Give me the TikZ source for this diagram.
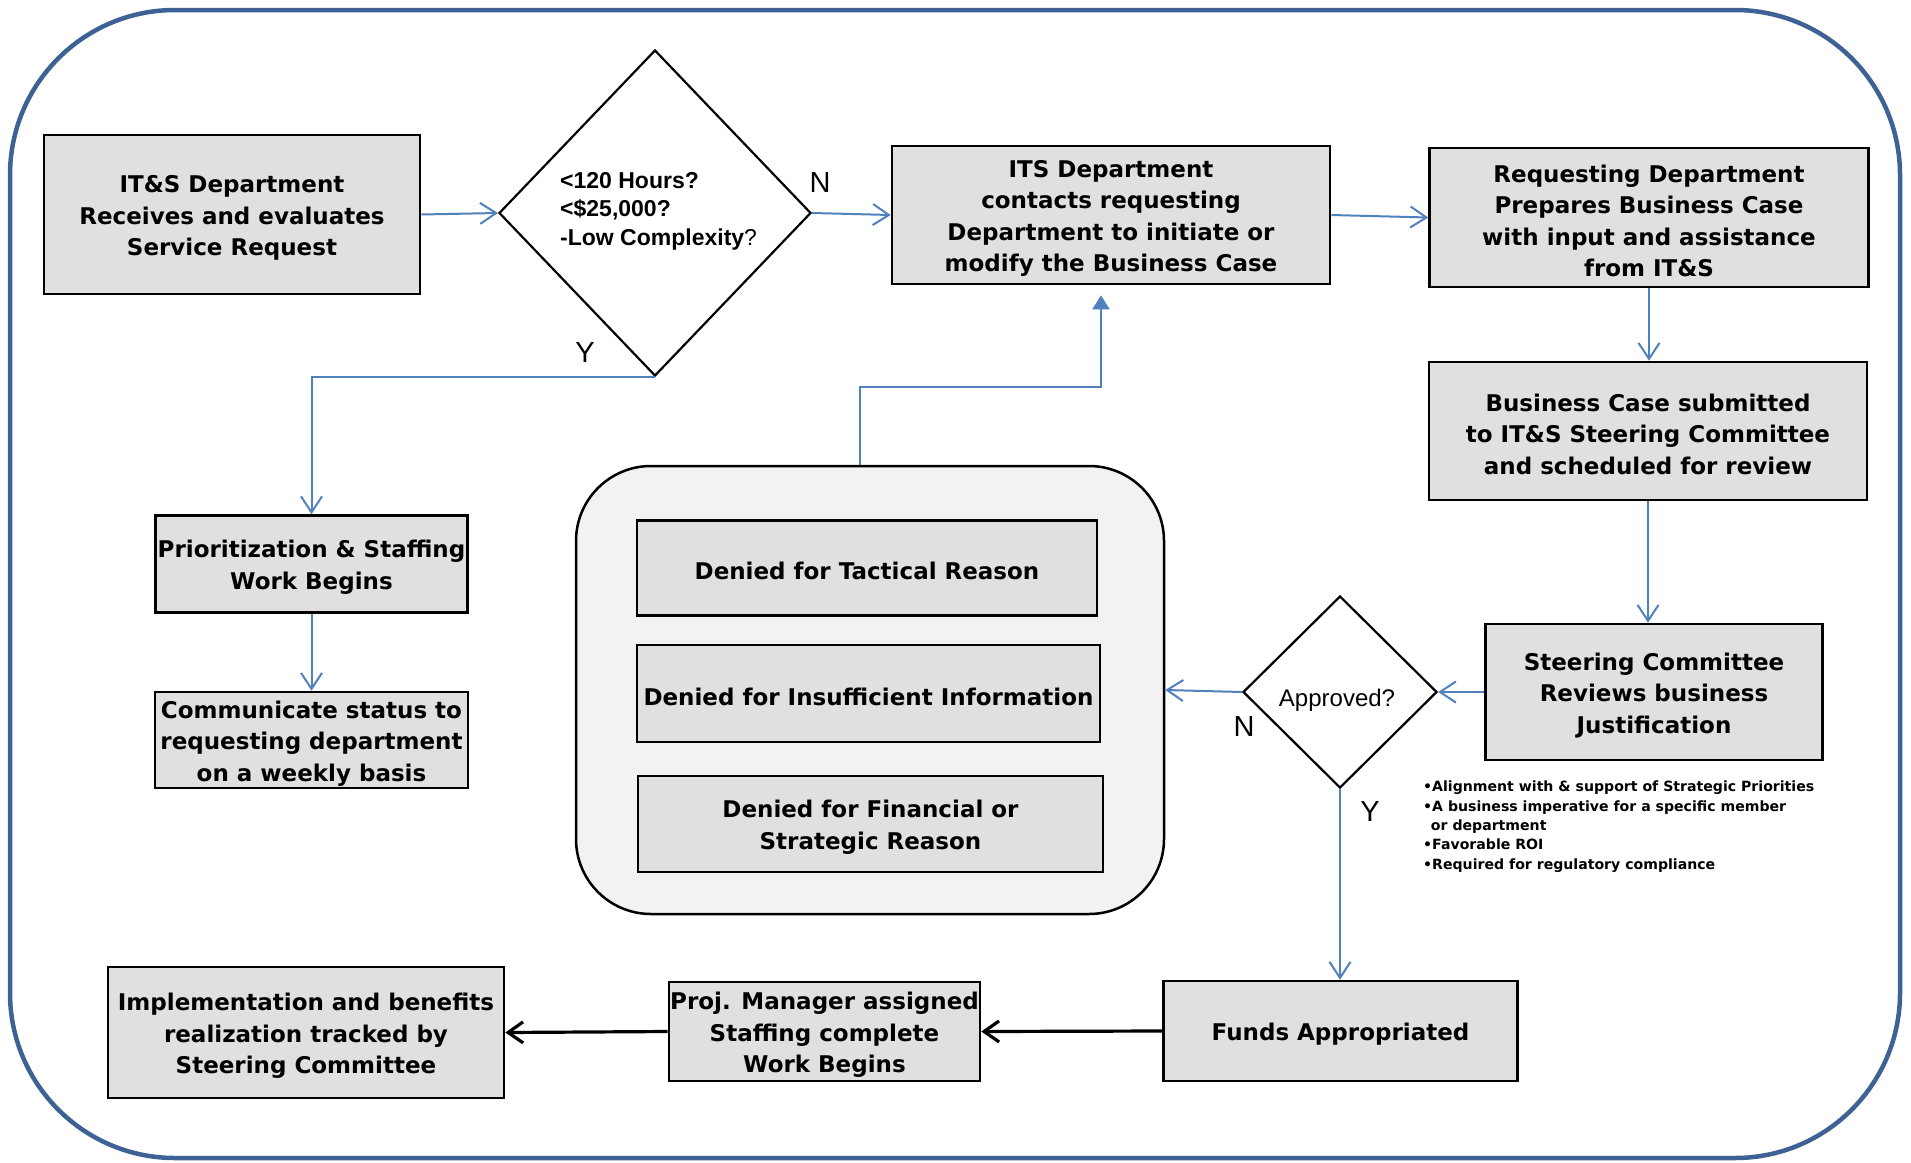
\documentclass[tikz,border=0pt]{standalone}
\usepackage{fontspec}
\setmainfont{DejaVu Sans}
\newfontfamily\arialf{Liberation Sans}
\usetikzlibrary{arrows.meta,shapes.geometric}

\definecolor{frameblue}{RGB}{62,98,148}
\definecolor{flowblue}{RGB}{79,129,189}
\definecolor{boxgray}{RGB}{224,224,224}
\definecolor{panelgray}{RGB}{242,242,242}

\newcommand{\bxfont}{\bfseries\fontsize{23}{31.5}\selectfont}
% taller first line so the text block sits a little lower in its box
\newcommand{\tp}{\rule{0pt}{24pt}}

\tikzset{
  box/.style={draw=black, line width=2.6pt, fill=boxgray, inner sep=0pt,
    align=center, font=\bxfont},
  decision/.style={diamond, draw=black, line width=2.2pt, fill=white,
    inner sep=0pt},
  panel/.style={draw=black, line width=2.5pt, fill=panelgray,
    rounded corners=75pt, inner sep=0pt},
  yn/.style={font=\arialf\fontsize{29}{29}\selectfont, inner sep=0pt},
  flow/.style={draw=flowblue, line width=2pt,
    -{Straight Barb[length=16pt,width=21pt]}},
  flowup/.style={draw=flowblue, line width=2.2pt,
    -{Triangle[length=14pt,width=17pt]}},
  blackflow/.style={draw=black, line width=3.2pt,
    -{Straight Barb[length=15pt,width=21pt]}},
}

\begin{document}
\begin{tikzpicture}[x=1pt,y=-1pt]
\useasboundingbox (0,0) rectangle (1911,1162);

% outer frame
\draw[frameblue, line width=4.5pt, rounded corners=165pt] (10,10) rectangle (1900,1158);

% intake and screening
\node[box, minimum width=376pt, minimum height=159pt] (intake) at (232,214.5)
  {\tp IT\&S Department\\Receives and evaluates\\Service Request};
\node[decision, minimum width=312pt, minimum height=326pt] (q1) at (655,213) {};
\node[anchor=west, align=left, inner sep=0pt,
  font=\arialf\bfseries\fontsize{23}{28.5}\selectfont] (q1txt) at (560,211)
  {<120 Hours?\\<\$25,000?\\-Low Complexity{\mdseries ?}};
\node[yn] (q1n) at (820,183) {N};
\node[yn] (q1y) at (585,353) {Y};

% business case track
\node[box, minimum width=438pt, minimum height=138pt] (its) at (1111,215)
  {\tp ITS Department\\contacts requesting\\Department to initiate or\\modify the Business Case};
\node[box, minimum width=439pt, minimum height=139pt] (req) at (1649,217.5)
  {\tp Requesting Department\\Prepares Business Case\\with input and assistance\\from IT\&S};
\node[box, minimum width=438pt, minimum height=138pt] (bcs) at (1648,431)
  {\tp Business Case submitted\\to IT\&S Steering Committee\\and scheduled for review};
\node[box, minimum width=337pt, minimum height=136pt] (stc) at (1654,692)
  {\tp Steering Committee\\Reviews business\\Justification};

% approval decision
\node[decision, minimum width=194pt, minimum height=192pt] (q2) at (1340,692) {};
\node[font=\arialf\fontsize{24}{24}\selectfont, inner sep=0pt] (q2txt) at (1337,700) {Approved?};
\node[yn] (q2n) at (1244,727) {N};
\node[yn] (q2y) at (1370,812) {Y};

% criteria list
\node[anchor=north west, align=left, inner sep=0pt,
  font=\bfseries\fontsize{14.1}{19.3}\selectfont] (crit) at (1423,781)
  {•Alignment with \& support of Strategic Priorities\\
   •A business imperative for a specific member\\
   \hspace*{0.55em}or department\\
   •Favorable ROI\\
   •Required for regulatory compliance};

% denial reasons
\node[panel, minimum width=588pt, minimum height=448pt] (deny) at (870,690) {};
\node[box, minimum width=460pt, minimum height=95pt] (tact) at (867,568)
  {\tp Denied for Tactical Reason};
\node[box, minimum width=463pt, minimum height=97pt] (info) at (868.5,693.5)
  {\tp Denied for Insufficient Information};
\node[box, minimum width=465pt, minimum height=96pt] (fin) at (870.5,824)
  {\tp Denied for Financial or\\Strategic Reason};

% small request track
\node[box, minimum width=312pt, minimum height=97pt] (prio) at (311.5,564)
  {\tp Prioritization \& Staffing\\Work Begins};
\node[box, minimum width=313pt, minimum height=96pt] (comm) at (311.5,740)
  {\tp Communicate status to\\requesting department\\on a weekly basis};

% execution track
\node[box, minimum width=354pt, minimum height=100pt] (funds) at (1340.5,1031)
  {\tp Funds Appropriated};
\node[box, minimum width=311pt, minimum height=99pt] (pm) at (824.5,1031.5)
  {\tp Proj. Manager assigned\\Staffing complete\\Work Begins};
\node[box, minimum width=396pt, minimum height=131pt] (impl) at (306,1032.5)
  {\tp Implementation and benefits\\realization tracked by\\Steering Committee};

% connectors
\draw[flow] (intake.east) -- (q1.west);
\draw[flow] (q1.east) -- (its.west);
\draw[flow] (its.east) -- (req.west);
\draw[flow] (req.south) -- (req.south |- bcs.north);
\draw[flow] (bcs.south) -- (bcs.south |- stc.north);
\draw[flow] (stc.west) -- (q2.east);
\draw[flow] (q2.west) -- (deny.east);
\draw[flow] (q2.south) -- (q2.south |- funds.north);
\draw[flow] (q1.south) -- (prio.north |- q1.south) -- (prio.north);
\draw[flow] (prio.south) -- (comm.north);

\coordinate (backA) at (860,387);
\coordinate (backB) at (1101,387);
\draw[flowup] (deny.north -| backA) -- (backA) -- (backB)
  -- ([yshift=-10pt]its.south -| backB);

\draw[blackflow] (funds.west) -- (pm.east);
\draw[blackflow] (pm.west) -- (impl.east);
\end{tikzpicture}
\end{document}
